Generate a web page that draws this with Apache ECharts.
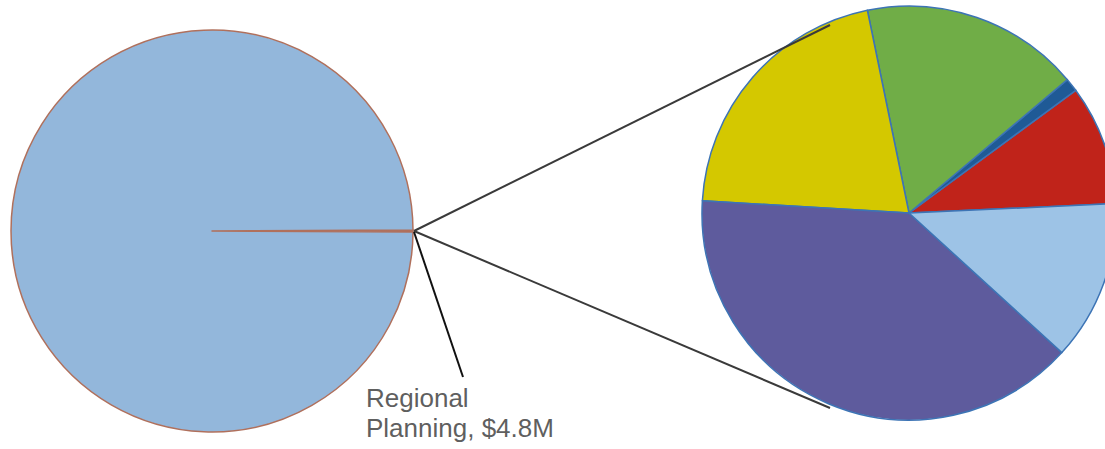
<!DOCTYPE html>
<html>
<head>
<meta charset="utf-8">
<script src="https://cdn.jsdelivr.net/npm/echarts@6/dist/echarts.min.js"></script>
<style>html,body{margin:0;padding:0;background:#fff}#c{width:1105px;height:449px}</style>
</head>
<body>
<div id="c"></div>
<script>
// Left (overall) pie
const mainNames = ['Regional Planning', 'Other'];
const mainValues = [4.8, 3000];
// Right (breakdown of Regional Planning, $M) – slice labels not shown in the reference
const subNames = ['Part A', 'Part B', 'Part C', 'Part D', 'Part E', 'Part F'];
const subValues = [0.45, 0.05, 0.82, 1.0, 1.88, 0.6];

const LC = [212, 231], LR = 201;
const RC = [909, 213], RR = 207;

const mainColors = ['#b5604a', '#93b7db'];
const subColors = ['#c0231a', '#1f5a96', '#70ad47', '#d4c800', '#5e5b9d', '#9dc3e6'];

const total = mainValues.reduce((a, b) => a + b, 0);
const halfAngle = mainValues[0] / total * 180;

const chart = echarts.init(document.getElementById('c'), null, {renderer: 'svg'});
const edge = [LC[0] + LR + 1, LC[1]];
chart.setOption({
  animation: false,
  series: [
    {
      type: 'pie',
      center: LC,
      radius: [0, LR],
      startAngle: halfAngle,
      clockwise: true,
      silent: true,
      label: {show: false},
      labelLine: {show: false},
      itemStyle: {borderColor: '#b0705c', borderWidth: 1.5},
      data: mainNames.map((n, i) => ({name: n, value: mainValues[i], itemStyle: {color: mainColors[i]}}))
    },
    {
      type: 'pie',
      center: RC,
      radius: [0, RR],
      startAngle: 2.6,
      clockwise: false,
      silent: true,
      label: {show: false},
      labelLine: {show: false},
      itemStyle: {borderColor: '#3d74b5', borderWidth: 1.5},
      data: subNames.map((n, i) => ({name: n, value: subValues[i], itemStyle: {color: subColors[i]}}))
    }
  ],
  graphic: [
    {type: 'line', z: 100, shape: {x1: edge[0], y1: edge[1], x2: RC[0] - 79, y2: RC[1] - 188}, style: {stroke: '#3a3a3a', lineWidth: 2}},
    {type: 'line', z: 100, shape: {x1: edge[0], y1: edge[1], x2: RC[0] - 79, y2: RC[1] + 195}, style: {stroke: '#3a3a3a', lineWidth: 2}},
    {type: 'line', z: 100, shape: {x1: edge[0], y1: edge[1] + 1, x2: 463, y2: 377}, style: {stroke: '#111', lineWidth: 2}},
    {type: 'text', z: 100, left: 366, top: 383, style: {
      text: 'Regional\nPlanning, $' + mainValues[0] + 'M',
      fill: '#5f5f5f', font: '26px "Liberation Sans", Arial, sans-serif', lineHeight: 30
    }}
  ]
});
</script>
</body>
</html>
